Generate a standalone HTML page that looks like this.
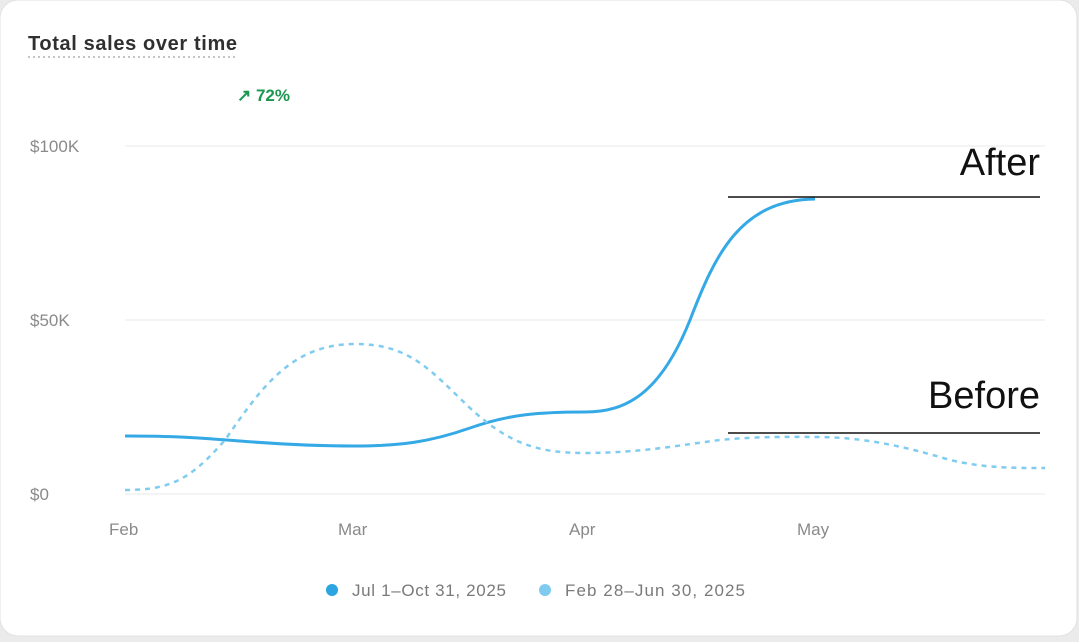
<!DOCTYPE html><html><head><style>
body{margin:0;background:#ebebeb;width:1079px;height:642px;overflow:hidden;font-family:"Liberation Sans",sans-serif}
</style></head><body>
<svg width="1079" height="642" xmlns="http://www.w3.org/2000/svg" style="position:absolute;left:0;top:0">
<rect x="0" y="0" width="1077" height="636" rx="18" fill="#fff" stroke="#e2e2e2"/>
<text x="28" y="50" font-size="20" font-weight="bold" fill="#303030" textLength="209">Total sales over time</text>
<line x1="28" y1="57" x2="238" y2="57" stroke="#c4c4c4" stroke-width="2" stroke-dasharray="2,3"/>
<text x="237" y="101" font-size="17" font-weight="bold" fill="#1a9650">↗ 72%</text>
<g stroke="#f1f1f1" stroke-width="1.5"><line x1="125" y1="146" x2="1045" y2="146"/><line x1="125" y1="320" x2="1045" y2="320"/><line x1="125" y1="494" x2="1045" y2="494"/></g>
<g font-size="17" fill="#8a8a8a"><text x="30" y="152">$100K</text><text x="30" y="326">$50K</text><text x="30" y="500">$0</text>
<text x="109" y="535">Feb</text><text x="338" y="535">Mar</text><text x="569" y="535">Apr</text><text x="797" y="535">May</text></g>
<path d="M125,436 C180,436 200,438 240,441 C290,445 320,446 355,446 C400,446 430,442 470,428 C510,414 540,412 585,412 C625,412 660,395 690,320 C715,255 740,200 815,199" fill="none" stroke="#35a9e6" stroke-width="3"/>
<path d="M125,490 C170,490 190,480 225,440 C260,390 290,344 355,344 C410,344 430,370 470,408 C510,445 540,453 585,453 C640,453 680,445 720,440 C760,436 800,437 815,437 C860,437 900,445 950,460 C985,468 1010,468 1045,468" fill="none" stroke="#80ccf0" stroke-width="2.5" stroke-dasharray="5,5"/>
<text x="1040" y="175" font-size="38" text-anchor="end" fill="#111">After</text>
<line x1="728" y1="197" x2="1040" y2="197" stroke="#111" stroke-width="1.5"/>
<text x="1040" y="408" font-size="38" text-anchor="end" fill="#111">Before</text>
<line x1="728" y1="433" x2="1040" y2="433" stroke="#111" stroke-width="1.5"/>
<circle cx="332" cy="590" r="6" fill="#2aa5e2"/><text x="352" y="596" font-size="17" fill="#7a7a7a" textLength="154">Jul 1–Oct 31, 2025</text>
<circle cx="545" cy="590" r="6" fill="#7fcbef"/><text x="565" y="596" font-size="17" fill="#7a7a7a" textLength="180">Feb 28–Jun 30, 2025</text>
</svg>
</body></html>
